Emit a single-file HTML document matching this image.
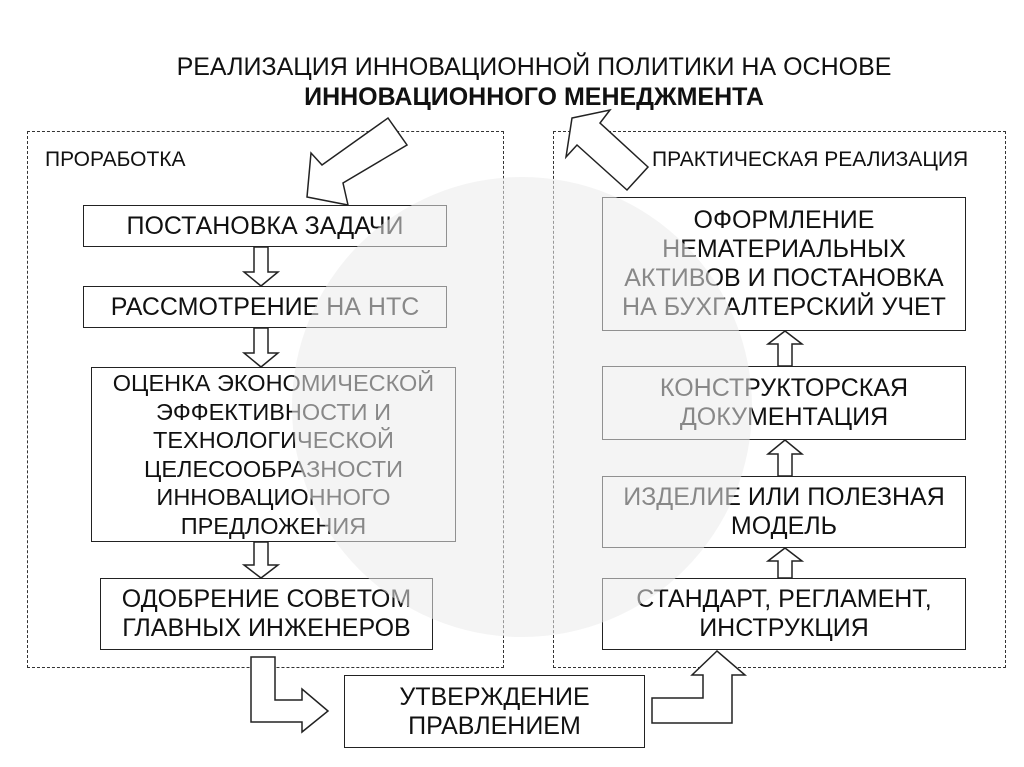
<!DOCTYPE html>
<html><head><meta charset="utf-8"><style>
body{margin:0;width:1024px;height:767px;background:#fff;position:relative;overflow:hidden;font-family:"Liberation Sans",sans-serif;color:#111}
.t{position:absolute;left:0;width:1024px;text-align:center;font-size:25px}
.b{position:absolute;border:1.5px solid #222;box-sizing:border-box;display:flex;align-items:center;justify-content:center;text-align:center;font-size:25px;line-height:29px;background:#fff;white-space:nowrap}
.d{position:absolute;border:1.5px dashed #333;box-sizing:border-box}
.l{position:absolute;font-size:21px}
</style></head><body>
<div class="t" style="top:53px;left:22px">РЕАЛИЗАЦИЯ ИННОВАЦИОННОЙ ПОЛИТИКИ НА ОСНОВЕ</div>
<div class="t" style="top:83px;left:22px;font-weight:bold">ИННОВАЦИОННОГО МЕНЕДЖМЕНТА</div>
<div class="d" style="left:27px;top:131px;width:477px;height:537px"></div>
<div class="d" style="left:553px;top:131px;width:453px;height:537px"></div>
<div class="l" style="left:45px;top:148px">ПРОРАБОТКА</div>
<div class="l" style="left:652px;top:148px">ПРАКТИЧЕСКАЯ РЕАЛИЗАЦИЯ</div>
<div class="b" style="left:83px;top:205px;width:364px;height:42px">ПОСТАНОВКА ЗАДАЧИ</div>
<div class="b" style="left:83px;top:286px;width:364px;height:42px">РАССМОТРЕНИЕ НА НТС</div>
<div class="b" style="left:91px;top:367px;width:365px;height:175px;font-size:23.5px;line-height:28.5px">ОЦЕНКА ЭКОНОМИЧЕСКОЙ<br>ЭФФЕКТИВНОСТИ И<br>ТЕХНОЛОГИЧЕСКОЙ<br>ЦЕЛЕСООБРАЗНОСТИ<br>ИННОВАЦИОННОГО<br>ПРЕДЛОЖЕНИЯ</div>
<div class="b" style="left:100px;top:578px;width:333px;height:72px">ОДОБРЕНИЕ СОВЕТОМ<br>ГЛАВНЫХ ИНЖЕНЕРОВ</div>
<div class="b" style="left:602px;top:197px;width:364px;height:134px">ОФОРМЛЕНИЕ<br>НЕМАТЕРИАЛЬНЫХ<br>АКТИВОВ И ПОСТАНОВКА<br>НА БУХГАЛТЕРСКИЙ УЧЕТ</div>
<div class="b" style="left:602px;top:366px;width:364px;height:74px">КОНСТРУКТОРСКАЯ<br>ДОКУМЕНТАЦИЯ</div>
<div class="b" style="left:602px;top:476px;width:364px;height:72px">ИЗДЕЛИЕ ИЛИ ПОЛЕЗНАЯ<br>МОДЕЛЬ</div>
<div class="b" style="left:602px;top:578px;width:364px;height:72px">СТАНДАРТ, РЕГЛАМЕНТ,<br>ИНСТРУКЦИЯ</div>
<div class="b" style="left:344px;top:675px;width:301px;height:73px">УТВЕРЖДЕНИЕ<br>ПРАВЛЕНИЕМ</div>
<svg width="1024" height="767" style="position:absolute;left:0;top:0" fill="#fff" stroke="#222" stroke-width="1.5">
<polygon points="388,118 407,145 343,183 348,205 307,197 311,153 322,165"/>
<polygon points="572,118 610,110 600,123 648,167 627,190 577,145 566,157"/>
<polygon points="254,247 268,247 268,272 278,272 261,286 244,272 254,272"/>
<polygon points="254,328 268,328 268,353 278,353 261,367 244,353 254,353"/>
<polygon points="254,542 268,542 268,565 278,565 261,578 244,565 254,565"/>
<polygon points="778,366 792,366 792,344 802,344 785,331 768,344 778,344"/>
<polygon points="778,476 792,476 792,454 802,454 785,440 768,454 778,454"/>
<polygon points="778,578 792,578 792,561 802,561 785,548 768,561 778,561"/>
<polygon points="251,657 275,657 275,700 302,700 302,689 328,711 302,732 302,722 251,722"/>
<polygon points="652,698 703,698 703,675 692,675 717,651 745,675 732,675 732,723 652,723"/>
<circle cx="522" cy="407" r="230" fill="rgba(235,235,235,0.55)" stroke="none"/>
</svg>
</body></html>
